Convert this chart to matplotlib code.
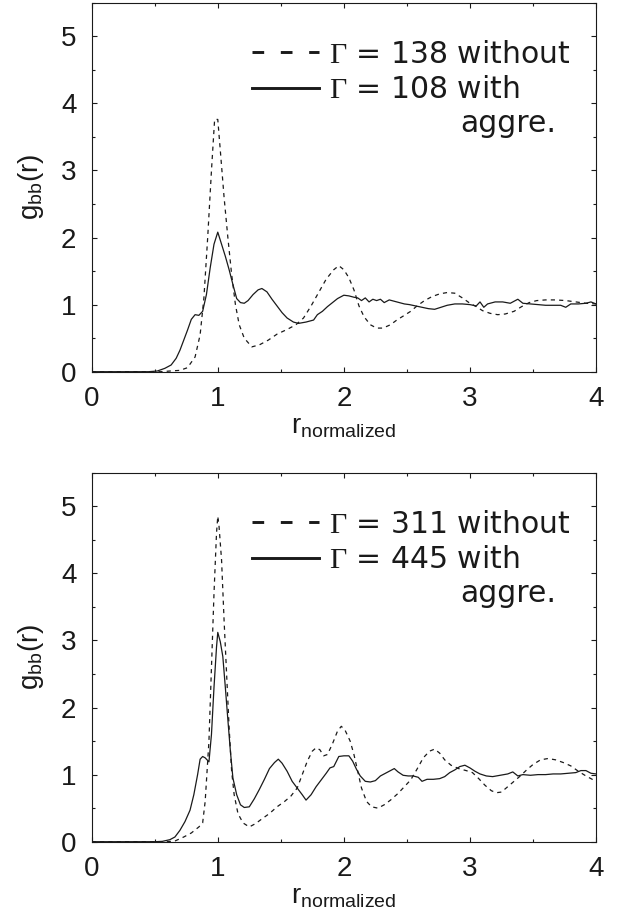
import matplotlib
matplotlib.use("Agg")
import matplotlib.pyplot as plt
from matplotlib.lines import Line2D
from matplotlib.ticker import MultipleLocator

plt.rcParams['font.family'] = ['Liberation Sans', 'DejaVu Sans']
plt.rcParams['mathtext.fontset'] = 'custom'
plt.rcParams['mathtext.rm'] = 'Liberation Serif'
plt.rcParams['mathtext.sf'] = 'Liberation Sans'
plt.rcParams['mathtext.it'] = 'Liberation Sans:italic'
plt.rcParams['lines.scale_dashes'] = False

# ---------------- data ----------------
top_without_r = [0.0, 0.55, 0.62, 0.70, 0.76, 0.82, 0.86, 0.89, 0.92, 0.95, 0.975, 1.0, 1.02, 1.05, 1.08,
                 1.11, 1.14, 1.17, 1.21, 1.27, 1.33, 1.40, 1.47, 1.55, 1.62, 1.68, 1.74, 1.80, 1.86, 1.92,
                 1.96, 2.00, 2.04, 2.08, 2.12, 2.16, 2.21, 2.26, 2.31, 2.37, 2.42, 2.48, 2.53, 2.58, 2.64,
                 2.70, 2.76, 2.82, 2.88, 2.94, 3.00, 3.05, 3.10, 3.16, 3.22, 3.28, 3.35, 3.41, 3.47, 3.53,
                 3.60, 3.68, 3.76, 3.84, 3.92, 4.00]
top_without_g = [0.0, 0.0, 0.01, 0.02, 0.06, 0.22, 0.55, 1.1, 2.0, 3.0, 3.76, 3.76, 3.3, 2.6, 2.0,
                 1.45, 1.0, 0.7, 0.5, 0.37, 0.40, 0.47, 0.56, 0.63, 0.70, 0.80, 0.98, 1.18, 1.38, 1.52,
                 1.58, 1.52, 1.40, 1.22, 0.98, 0.82, 0.70, 0.65, 0.65, 0.70, 0.77, 0.84, 0.90, 0.98, 1.06,
                 1.12, 1.16, 1.18, 1.17, 1.10, 1.02, 0.97, 0.91, 0.87, 0.85, 0.86, 0.90, 0.97, 1.03, 1.06,
                 1.07, 1.07, 1.06, 1.04, 1.02, 1.01]

top_with_r = [0.0, 0.45, 0.52, 0.58, 0.63, 0.67, 0.70, 0.73, 0.76, 0.79, 0.82, 0.85, 0.88, 0.91, 0.94,
              0.97, 1.00, 1.03, 1.06, 1.09, 1.12, 1.15, 1.18, 1.21, 1.24, 1.28, 1.32, 1.35, 1.39, 1.43,
              1.47, 1.51, 1.55, 1.60, 1.64, 1.70, 1.76, 1.79, 1.83, 1.87, 1.91, 1.95, 2.00, 2.04, 2.08,
              2.11, 2.14, 2.17, 2.20, 2.23, 2.26, 2.29, 2.32, 2.36, 2.40, 2.44, 2.48, 2.52, 2.57, 2.62,
              2.67, 2.72, 2.77, 2.82, 2.88, 2.94, 3.00, 3.05, 3.08, 3.11, 3.14, 3.20, 3.26, 3.32, 3.38,
              3.42, 3.48, 3.54, 3.60, 3.66, 3.72, 3.76, 3.80, 3.86, 3.92, 3.96, 4.00]
top_with_g = [0.0, 0.0, 0.01, 0.05, 0.10, 0.20, 0.32, 0.47, 0.62, 0.78, 0.85, 0.84, 0.90, 1.15, 1.55,
              1.90, 2.08, 1.90, 1.72, 1.52, 1.30, 1.09, 1.03, 1.02, 1.06, 1.15, 1.22, 1.24, 1.19, 1.08,
              0.98, 0.88, 0.80, 0.74, 0.72, 0.74, 0.77, 0.85, 0.90, 0.97, 1.03, 1.09, 1.14, 1.13, 1.11,
              1.10, 1.06, 1.10, 1.04, 1.08, 1.06, 1.08, 1.03, 1.07, 1.05, 1.03, 1.01, 1.00, 0.98, 0.96,
              0.94, 0.93, 0.96, 0.99, 1.01, 1.01, 1.00, 0.98, 1.04, 0.96, 1.01, 1.04, 1.04, 1.02, 1.08,
              1.02, 1.01, 1.00, 0.99, 0.99, 0.99, 0.96, 1.01, 1.01, 1.02, 1.04, 1.01]

bot_without_r = [0.0, 0.60, 0.66, 0.73, 0.79, 0.85, 0.88, 0.90, 0.93, 0.95, 0.97, 0.99, 1.00, 1.01, 1.03,
                 1.05, 1.07, 1.09, 1.11, 1.13, 1.16, 1.20, 1.25, 1.30, 1.35, 1.41, 1.47, 1.53, 1.58, 1.63,
                 1.67, 1.71, 1.75, 1.78, 1.81, 1.84, 1.87, 1.91, 1.95, 1.98, 2.01, 2.05, 2.08, 2.11, 2.14,
                 2.18, 2.22, 2.27, 2.32, 2.37, 2.43, 2.48, 2.53, 2.58, 2.63, 2.68, 2.72, 2.76, 2.80, 2.85,
                 2.91, 2.97, 3.02, 3.07, 3.12, 3.17, 3.21, 3.25, 3.30, 3.35, 3.40, 3.45, 3.50, 3.56, 3.62,
                 3.68, 3.74, 3.80, 3.86, 3.92, 3.97, 4.00]
bot_without_g = [0.0, 0.0, 0.01, 0.07, 0.13, 0.22, 0.28, 0.6, 1.5, 2.6, 3.7, 4.6, 4.85, 4.7, 4.2,
                 3.3, 2.5, 1.7, 1.05, 0.7, 0.42, 0.28, 0.22, 0.27, 0.34, 0.42, 0.52, 0.60, 0.68, 0.80,
                 1.00, 1.20, 1.35, 1.40, 1.37, 1.28, 1.30, 1.46, 1.65, 1.72, 1.66, 1.50, 1.30, 1.05, 0.80,
                 0.60, 0.52, 0.50, 0.55, 0.62, 0.72, 0.82, 0.92, 1.08, 1.25, 1.35, 1.38, 1.32, 1.22, 1.14,
                 1.09, 1.06, 1.03, 0.94, 0.84, 0.76, 0.73, 0.74, 0.82, 0.90, 0.98, 1.07, 1.15, 1.22, 1.24,
                 1.22, 1.18, 1.13, 1.05, 0.98, 0.93, 0.89]

bot_with_r = [0.0, 0.50, 0.56, 0.62, 0.66, 0.70, 0.74, 0.78, 0.81, 0.84, 0.86, 0.88, 0.90, 0.93, 0.95,
              0.97, 0.99, 1.00, 1.02, 1.04, 1.06, 1.08, 1.10, 1.12, 1.15, 1.18, 1.21, 1.25, 1.29, 1.33,
              1.37, 1.41, 1.45, 1.48, 1.51, 1.55, 1.59, 1.63, 1.67, 1.70, 1.74, 1.78, 1.82, 1.86, 1.89,
              1.92, 1.96, 2.00, 2.04, 2.07, 2.10, 2.13, 2.17, 2.21, 2.25, 2.29, 2.33, 2.37, 2.40, 2.43,
              2.47, 2.51, 2.55, 2.59, 2.62, 2.66, 2.71, 2.76, 2.80, 2.84, 2.88, 2.92, 2.96, 3.00, 3.04,
              3.08, 3.13, 3.18, 3.24, 3.30, 3.34, 3.38, 3.42, 3.48, 3.54, 3.60, 3.66, 3.72, 3.78, 3.84,
              3.88, 3.92, 3.96, 4.00]
bot_with_g = [0.0, 0.0, 0.005, 0.03, 0.07, 0.17, 0.30, 0.47, 0.70, 1.00, 1.23, 1.27, 1.25, 1.19, 1.6,
              2.30, 2.9, 3.12, 2.98, 2.76, 2.3, 1.82, 1.35, 0.95, 0.70, 0.55, 0.51, 0.52, 0.64, 0.78,
              0.93, 1.09, 1.18, 1.23, 1.17, 1.05, 0.90, 0.80, 0.70, 0.62, 0.70, 0.82, 0.92, 1.02, 1.10,
              1.12, 1.27, 1.28, 1.28, 1.20, 1.08, 0.98, 0.90, 0.89, 0.91, 0.98, 1.02, 1.06, 1.09, 1.04,
              0.99, 0.98, 0.98, 0.96, 0.90, 0.93, 0.93, 0.94, 0.97, 1.03, 1.07, 1.12, 1.14, 1.10, 1.05,
              1.01, 0.98, 0.97, 0.99, 1.01, 1.04, 0.98, 1.00, 0.99, 1.00, 1.00, 1.01, 1.01, 1.02, 1.03,
              1.06, 1.06, 1.02, 1.01]

panels = [
    dict(r_without=top_without_r, g_without=top_without_g, r_with=top_with_r, g_with=top_with_g,
         lab_without='138', lab_with='108'),
    dict(r_without=bot_without_r, g_without=bot_without_g, r_with=bot_with_r, g_with=bot_with_g,
         lab_without='311', lab_with='445'),
]

x_ticks = [0, 1, 2, 3, 4]
y_ticks = [0, 1, 2, 3, 4, 5]

# ---------------- figure ----------------
W, H = 623, 915
fig = plt.figure(figsize=(W / 100, H / 100), dpi=100)
ink = '#1a1a1a'
left = 91.7 / W
width = (596.0 - 91.7) / W
height = 369.0 / H
bottoms = [1 - 371.7 / H, 1 - 841.7 / H]
leg_size = 21.5
leg_font = {'family': ['DejaVu Sans'], 'size': leg_size}

for p, b in zip(panels, bottoms):
    ax = fig.add_axes([left, b, width, height])
    ax.plot(p['r_without'], p['g_without'], color=ink, lw=0.9, dashes=(3.0, 3.0))
    ax.plot(p['r_with'], p['g_with'], color=ink, lw=0.9)
    ax.set_xlim(0, 4)
    ax.set_ylim(0, 5.5)
    ax.set_xticks(x_ticks)
    ax.set_yticks(y_ticks)
    ax.xaxis.set_minor_locator(MultipleLocator(0.5))
    ax.yaxis.set_minor_locator(MultipleLocator(0.5))
    ax.tick_params(which='both', direction='in', top=True, right=True, color=ink, width=0.8)
    ax.tick_params(which='major', length=3.6)
    ax.tick_params(which='minor', length=2.0)
    ax.tick_params(axis='x', which='major', labelsize=20, pad=10, labelcolor=ink)
    ax.tick_params(axis='y', which='major', labelsize=20, pad=11, labelcolor=ink)
    for s in ax.spines.values():
        s.set_linewidth(0.8)
        s.set_color(ink)
    ax.set_xlabel(r'r$_{\mathsf{normalized}}$', fontsize=20, color=ink, labelpad=2)
    ax.set_ylabel(r'g$_{\mathsf{bb}}$(r)', fontsize=20, color=ink)
    ax.yaxis.set_label_coords(-0.09, 0.5)

    handles = [Line2D([], [], color=ink, lw=2.1, dashes=(8.4, 12.0)),
               Line2D([], [], color=ink, lw=2.1)]
    labels = [r'$\mathrm{\Gamma}$ = ' + p['lab_without'] + ' without',
              r'$\mathrm{\Gamma}$ = ' + p['lab_with'] + ' with']
    ax.legend(handles, labels, loc='upper left', bbox_to_anchor=(0.317, 0.90),
              frameon=False, prop=leg_font, borderpad=0, borderaxespad=0,
              handlelength=2.27, handletextpad=0.33, labelspacing=0.22,
              labelcolor=ink)
    ax.text(0.730, 0.650, 'aggre.', transform=ax.transAxes, fontdict=leg_font,
            color=ink, ha='left', va='baseline')

fig.savefig('out.png', dpi=100)
